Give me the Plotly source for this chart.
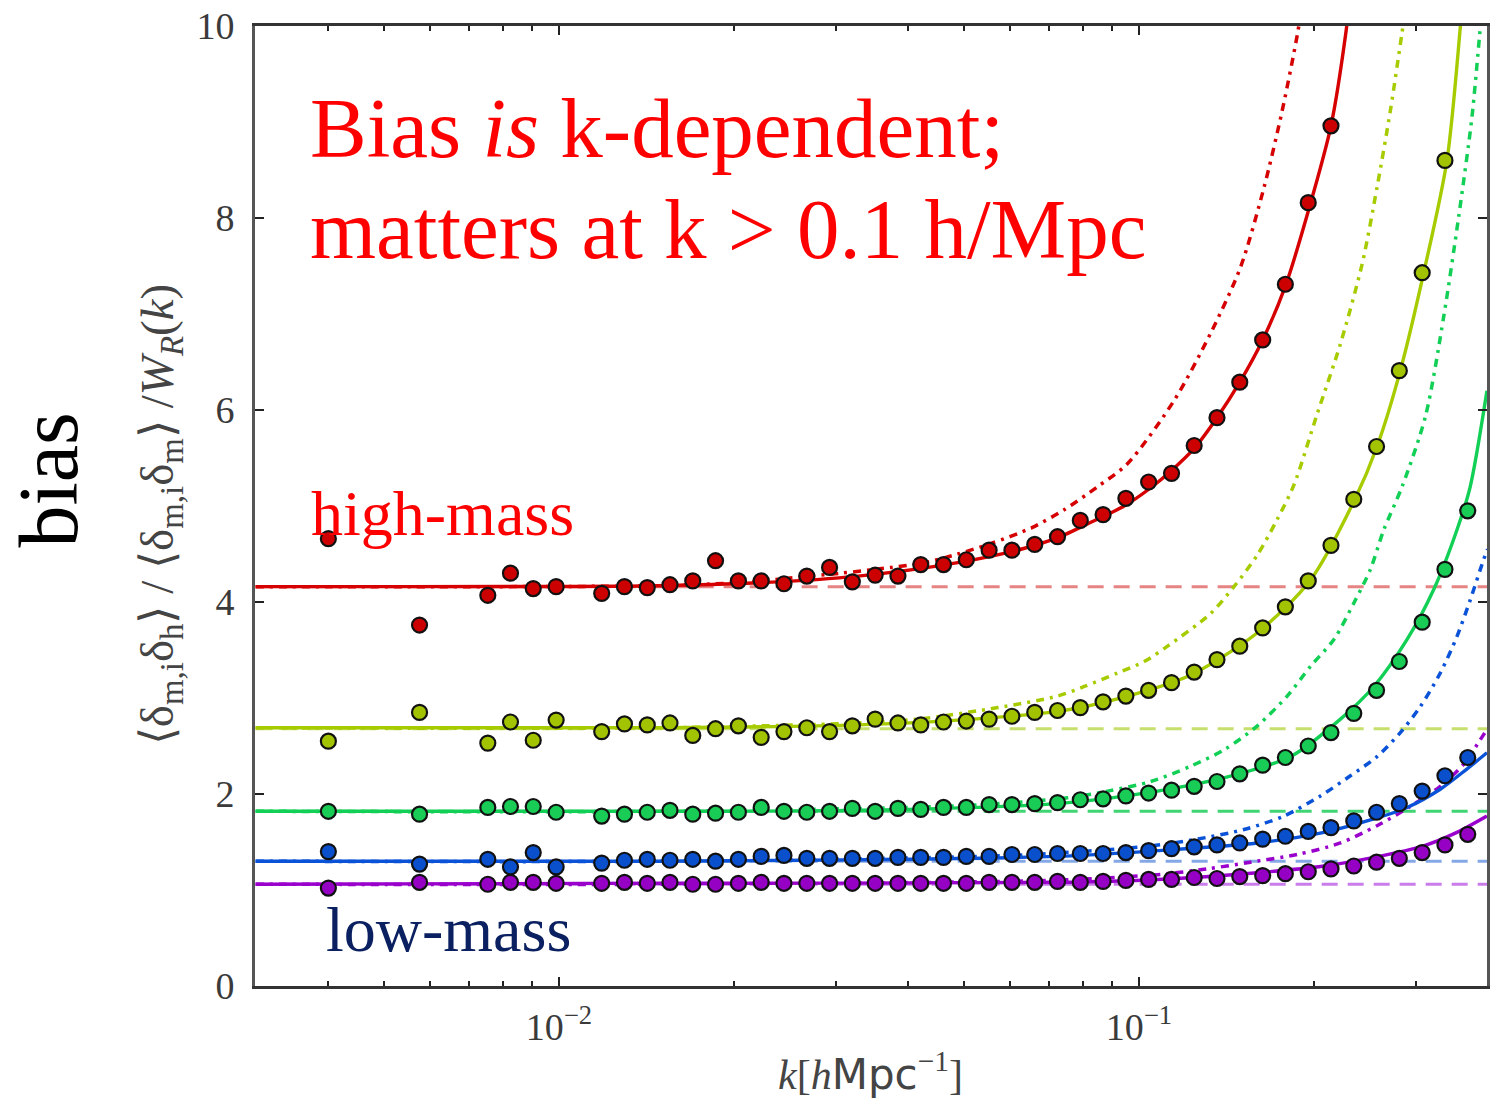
import plotly.graph_objects as go

# ---------------- data ----------------
k_bins = [0.004004, 0.00575, 0.00754, 0.00825, 0.00903, 0.00989, 0.01185, 0.01297, 0.01420,
          0.01554, 0.01701, 0.01862, 0.02039, 0.02232, 0.02443, 0.02675, 0.02928, 0.03205,
          0.03509, 0.03841, 0.04205, 0.04603, 0.05039, 0.05516, 0.06039, 0.06611, 0.07237,
          0.07922, 0.08672, 0.09493, 0.1039, 0.1138, 0.1245, 0.1363, 0.1492, 0.1634,
          0.1788, 0.1958, 0.2143, 0.2346, 0.2568, 0.2811, 0.3078, 0.3369, 0.3688]

bias_red = [4.66, 3.76, 4.07, 4.30, 4.14, 4.16, 4.09, 4.16, 4.15,
            4.18, 4.22, 4.43, 4.22, 4.22, 4.19, 4.27, 4.36, 4.21, 4.28, 4.27, 4.39, 4.39, 4.44,
            4.54, 4.54, 4.60, 4.68,
            4.85, 4.91, 5.08, 5.25, 5.34, 5.63, 5.92, 6.29, 6.73, 7.31, 8.16, 8.96]
bias_yellow = [2.55, 2.85, 2.53, 2.75, 2.56, 2.77, 2.65, 2.73, 2.72,
               2.74, 2.61, 2.68, 2.71, 2.59, 2.65, 2.69, 2.65, 2.71, 2.78, 2.74, 2.72, 2.75,
               2.76, 2.78, 2.81, 2.85, 2.87,
               2.90, 2.96, 3.02, 3.08, 3.16, 3.27, 3.40, 3.54, 3.73, 3.95, 4.22, 4.59, 5.07,
               5.62, 6.41, 7.43, 8.60]
bias_green = [1.82, 1.79, 1.86, 1.87, 1.87, 1.81, 1.77, 1.79, 1.81,
              1.83, 1.79, 1.80, 1.81, 1.86, 1.82, 1.81, 1.82, 1.85, 1.82, 1.85, 1.84, 1.86,
              1.86, 1.89, 1.89, 1.90, 1.91,
              1.94, 1.95, 1.98, 2.01, 2.04, 2.08, 2.13, 2.21, 2.30, 2.38, 2.50, 2.64, 2.84,
              3.08, 3.38, 3.79, 4.34, 4.95]
bias_blue = [1.40, 1.27, 1.32, 1.24, 1.39, 1.24, 1.28, 1.31, 1.32,
             1.31, 1.32, 1.30, 1.32, 1.35, 1.36, 1.33, 1.33, 1.33, 1.33, 1.34, 1.34, 1.34,
             1.35, 1.35, 1.37, 1.37, 1.38,
             1.38, 1.38, 1.39, 1.41, 1.43, 1.45, 1.47, 1.49, 1.53, 1.56, 1.61, 1.65, 1.72,
             1.81, 1.90, 2.03, 2.19, 2.38]
bias_purple = [1.02, 1.08, 1.06, 1.08, 1.08, 1.07, 1.07, 1.08, 1.07,
               1.08, 1.06, 1.06, 1.07, 1.08, 1.07, 1.07, 1.07, 1.07, 1.07, 1.07, 1.07, 1.07,
               1.07, 1.08, 1.08, 1.08, 1.09,
               1.08, 1.09, 1.10, 1.11, 1.11, 1.13, 1.12, 1.14, 1.15, 1.17, 1.19, 1.22, 1.25,
               1.29, 1.33, 1.39, 1.47, 1.58]

# constant (large-scale) bias levels
b0_red, b0_yellow, b0_green, b0_blue, b0_purple = 4.16, 2.68, 1.82, 1.30, 1.06

# solid fit curves
k_fit_red = [0.003, 0.0148, 0.022, 0.0328, 0.0487, 0.0635, 0.0724, 0.0826, 0.0943, 0.1048,
             0.1138, 0.1245, 0.1363, 0.1492, 0.1634, 0.1788, 0.1958, 0.2143, 0.2270, 0.2320]
fit_red = [4.16, 4.17, 4.20, 4.27, 4.41, 4.56, 4.67, 4.83, 5.00, 5.19,
           5.37, 5.60, 5.92, 6.29, 6.73, 7.29, 8.07, 8.96, 9.90, 10.4]
k_fit_yellow = [0.003, 0.0150, 0.0328, 0.0487, 0.0724, 0.0943, 0.1228, 0.1600, 0.1976,
                0.2356, 0.2573, 0.2822, 0.3097, 0.3396, 0.3580, 0.3640]
fit_yellow = [2.69, 2.69, 2.72, 2.77, 2.86, 3.01, 3.24, 3.68, 4.23,
              5.07, 5.62, 6.41, 7.43, 8.60, 9.98, 10.5]
k_fit_green = [0.003, 0.0150, 0.0328, 0.0724, 0.1076, 0.1402, 0.1825, 0.2225, 0.2540,
               0.2899, 0.3222, 0.3533, 0.3724, 0.3980]
fit_green = [1.82, 1.82, 1.83, 1.90, 2.03, 2.17, 2.39, 2.78, 3.12,
             3.61, 4.13, 4.75, 5.20, 6.20]
k_fit_blue = [0.003, 0.0150, 0.0724, 0.1076, 0.1600, 0.2084, 0.2540, 0.2899, 0.3307,
              0.3675, 0.3980]
fit_blue = [1.30, 1.30, 1.35, 1.41, 1.49, 1.60, 1.74, 1.86, 2.05, 2.26, 2.43]
k_fit_purple = [0.003, 0.0150, 0.0724, 0.1076, 0.1600, 0.2084, 0.2540, 0.3097, 0.3533,
                0.3980]
fit_purple = [1.06, 1.07, 1.08, 1.11, 1.18, 1.25, 1.34, 1.46, 1.60, 1.77]

# dotted alternative model curves
k_alt_red = [0.003, 0.0150, 0.0200, 0.0306, 0.0374, 0.0427, 0.0487, 0.0556, 0.0651, 0.0743,
             0.0848, 0.0955, 0.1150, 0.1329, 0.1497, 0.1643, 0.1766, 0.1875, 0.1920]
alt_red = [4.16, 4.17, 4.20, 4.30, 4.36, 4.41, 4.50, 4.61, 4.77, 4.96,
           5.20, 5.44, 6.10, 6.80, 7.49, 8.32, 9.12, 9.91, 10.3]
k_alt_yellow = [0.003, 0.0150, 0.0328, 0.0416, 0.0571, 0.0724, 0.0805, 0.0918, 0.1021,
                0.1120, 0.1329, 0.1458, 0.1600, 0.1731, 0.1850, 0.2029, 0.2225, 0.2425,
                0.2573, 0.2713, 0.2841, 0.2900]
alt_yellow = [2.69, 2.69, 2.74, 2.78, 2.90, 3.02, 3.12, 3.26, 3.38,
              3.54, 3.88, 4.16, 4.49, 4.86, 5.22, 5.96, 6.69, 7.52,
              8.32, 9.12, 9.93, 10.3]
k_alt_green = [0.003, 0.0150, 0.0500, 0.0753, 0.0883, 0.1048, 0.1228, 0.1402, 0.1600,
               0.1801, 0.1976, 0.2168, 0.2347, 0.2506, 0.2642, 0.2841, 0.3117, 0.3352,
               0.3557, 0.3750, 0.3867, 0.3940]
alt_green = [1.82, 1.82, 1.88, 1.96, 2.03, 2.13, 2.29, 2.46, 2.71,
             3.02, 3.33, 3.61, 3.99, 4.34, 4.75, 5.20, 5.93, 6.97,
             8.01, 9.05, 9.91, 10.4]
k_alt_blue = [0.003, 0.0150, 0.0600, 0.0883, 0.1048, 0.1261, 0.1517, 0.1778, 0.2055,
              0.2315, 0.2573, 0.2822, 0.3055, 0.3307, 0.3533, 0.3724, 0.3927, 0.3990]
alt_blue = [1.30, 1.30, 1.36, 1.42, 1.46, 1.53, 1.63, 1.77, 1.98,
            2.19, 2.39, 2.64, 2.91, 3.26, 3.64, 4.02, 4.44, 4.55]
k_alt_purple = [0.003, 0.0150, 0.0700, 0.1076, 0.1312, 0.1557, 0.1875, 0.2225, 0.2573,
                0.2936, 0.3307, 0.3628, 0.3900, 0.3990]
alt_purple = [1.06, 1.06, 1.10, 1.16, 1.22, 1.29, 1.37, 1.49, 1.67,
              1.87, 2.08, 2.31, 2.59, 2.68]

k_range = [0.003, 0.3990]

x_tickvals = [0.01, 0.1]
x_ticktext = ["10<sup>−2</sup>", "10<sup>−1</sup>"]
x_minor = [0.003, 0.004, 0.005, 0.006, 0.007, 0.008, 0.009,
           0.02, 0.03, 0.04, 0.05, 0.06, 0.07, 0.08, 0.09, 0.2, 0.3]
y_tickvals = [0, 2, 4, 6, 8, 10]

# ---------------- styling ----------------
series = [
    dict(pts=bias_red, b0=b0_red, kf=k_fit_red, f=fit_red, ka=k_alt_red, a=alt_red,
         line="#d60000", dash="rgba(222,90,90,0.75)", marker="#cc0000"),
    dict(pts=bias_yellow, b0=b0_yellow, kf=k_fit_yellow, f=fit_yellow, ka=k_alt_yellow, a=alt_yellow,
         line="#a6cc00", dash="rgba(180,212,60,0.75)", marker="#a2c400"),
    dict(pts=bias_green, b0=b0_green, kf=k_fit_green, f=fit_green, ka=k_alt_green, a=alt_green,
         line="#12cf55", dash="rgba(30,205,90,0.85)", marker="#18cc55"),
    dict(pts=bias_blue, b0=b0_blue, kf=k_fit_blue, f=fit_blue, ka=k_alt_blue, a=alt_blue,
         line="#0a52d8", dash="rgba(80,130,220,0.7)", marker="#0a50cc"),
    dict(pts=bias_purple, b0=b0_purple, kf=k_fit_purple, f=fit_purple, ka=k_alt_purple, a=alt_purple,
         line="#9a00cc", dash="rgba(180,70,225,0.7)", marker="#9600c4"),
]

fig = go.Figure()

for s in series:
    fig.add_trace(go.Scatter(x=k_range, y=[s["b0"], s["b0"]], mode="lines",
                             line=dict(color=s["dash"], width=3, dash="16px,10px"),
                             hoverinfo="skip", showlegend=False))
for s in series:
    fig.add_trace(go.Scatter(x=s["ka"], y=s["a"], mode="lines",
                             line=dict(color=s["line"], width=3.5, dash="8px,6px,3px,6px",
                                       shape="spline", smoothing=0.8),
                             hoverinfo="skip", showlegend=False))
for s in series:
    fig.add_trace(go.Scatter(x=s["kf"], y=s["f"], mode="lines",
                             line=dict(color=s["line"], width=3.4, shape="spline", smoothing=0.8),
                             hoverinfo="skip", showlegend=False))
for s in series:
    fig.add_trace(go.Scatter(x=k_bins[:len(s["pts"])], y=s["pts"], mode="markers",
                             marker=dict(size=15, color=s["marker"],
                                         line=dict(color="#111111", width=2.2)),
                             showlegend=False))

# ---------------- layout ----------------
W, H = 1492, 1098
L, R, T, B = 255, 1490, 26, 986


def px(xp):
    return (xp - L) / (R - L)


def py(yp):
    return (B - yp) / (B - T)


serif = "Liberation Serif"
tick_font = dict(family=serif, size=38, color="#3a3a3a")

fig.update_layout(
    width=W, height=H,
    margin=dict(l=L, r=W - R, t=T, b=H - B, pad=0),
    paper_bgcolor="white", plot_bgcolor="white",
    showlegend=False,
    font=dict(family=serif),
    xaxis=dict(type="log", range=[-2.524, -0.400],
               tickmode="array", tickvals=x_tickvals, ticktext=x_ticktext,
               ticks="inside", ticklen=9, tickwidth=2, tickcolor="#222",
               minor=dict(tickmode="array", tickvals=x_minor, ticks="inside",
                          ticklen=5, tickwidth=2, tickcolor="#222", showgrid=False),
               showline=True, linecolor="#333", linewidth=2.5, mirror="ticks",
               showgrid=False, zeroline=False, tickfont=tick_font, ticklabelstandoff=6),
    yaxis=dict(range=[0, 10], tickmode="array", tickvals=y_tickvals,
               ticks="inside", ticklen=9, tickwidth=2, tickcolor="#222",
               showline=True, linecolor="#555", linewidth=3, mirror="ticks",
               showgrid=False, zeroline=False, tickfont=tick_font, ticklabelstandoff=10),
)

annotations = [
    dict(text="Bias <i>is</i> k-dependent;", x=px(308), y=py(128), xanchor="left",
         yanchor="middle", font=dict(family=serif, size=85, color="#ff0000")),
    dict(text="matters at k > 0.1 h/Mpc", x=px(308), y=py(229), xanchor="left",
         yanchor="middle", font=dict(family=serif, size=85, color="#ff0000")),
    dict(text="high-mass", x=px(309), y=py(513), xanchor="left", yanchor="middle",
         font=dict(family=serif, size=64, color="#ff0000")),
    dict(text="low-mass", x=px(324), y=py(929), xanchor="left", yanchor="middle",
         font=dict(family=serif, size=64, color="#0a2060")),
    dict(text="bias", x=px(47), y=py(480), xanchor="center", yanchor="middle",
         textangle=-90, font=dict(family=serif, size=84, color="#000000")),
    dict(text="⟨δ<sub>m,i</sub>δ<sub>h</sub>⟩ / ⟨δ<sub>m,i</sub>δ<sub>m</sub>⟩ /<i>W</i><sub><i>R</i></sub>(<i>k</i>)",
         x=px(160), y=py(515), xanchor="center", yanchor="middle", textangle=-90,
         font=dict(family=serif, size=47, color="#444444")),
    dict(text="<i>k</i>[<i>h</i><span style=\"font-family:DejaVu Sans\">Mpc</span><sup>−1</sup>]",
         x=px(872), y=py(1072), xanchor="center", yanchor="middle",
         font=dict(family=serif, size=42, color="#444444")),
]
for a in annotations:
    a.update(xref="paper", yref="paper", showarrow=False)
fig.update_layout(annotations=annotations)

fig.write_html("out.html")
